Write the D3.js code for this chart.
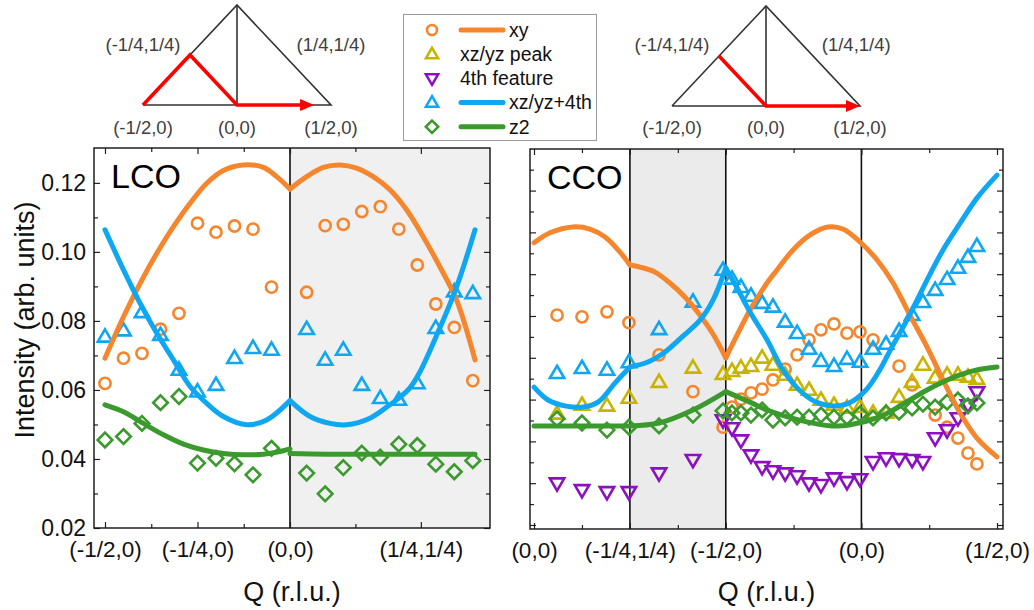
<!DOCTYPE html>
<html>
<head>
<meta charset="utf-8">
<script src="https://cdn.jsdelivr.net/npm/d3@7/dist/d3.min.js"></script>
<style>
html,body{margin:0;padding:0;background:#fff;}
svg{display:block;}
</style>
</head>
<body>
<svg id="chart" width="1034" height="610"></svg>
<script>
// ================= DATA =================
// Q positions are path lengths along the BZ cut (r.l.u.)
// ---- LCO (left panel) ----
const lcoQ = [-0.5,-0.45,-0.4,-0.35,-0.3,-0.25,-0.2,-0.15,-0.1,-0.05,0.045,0.095,0.144,0.194,0.244,0.294,0.344,0.394,0.444,0.494];
const lcoXy    = [0.0619,0.0692,0.0706,0.0776,0.0822,0.1083,0.1057,0.1075,0.1066,0.0898,0.0883,0.1076,0.1080,0.1117,0.1131,0.1066,0.0962,0.0849,0.0781,0.0627];
const lcoXz4th = [0.0754,0.0772,0.0825,0.0759,0.0658,0.0595,0.0614,0.0692,0.0721,0.0716,0.0776,0.0687,0.0716,0.0614,0.0576,0.0571,0.0619,0.0779,0.0885,0.0880];
const lcoZ2    = [0.0455,0.0465,0.0503,0.0563,0.0581,0.0388,0.0402,0.0386,0.0354,0.0431,0.0359,0.0299,0.0375,0.0417,0.0405,0.0443,0.0439,0.0385,0.0363,0.0395];

const lcoXyFitQ = [-0.5,-0.45,-0.405,-0.36,-0.315,-0.27,-0.225,-0.18,-0.126,-0.072,-0.036,0,0.045,0.09,0.135,0.18,0.225,0.27,0.315,0.36,0.405,0.45,0.5];
const lcoXyFit  = [0.0692,0.0812,0.0909,0.0996,0.1073,0.1141,0.1199,0.1236,0.1252,0.1245,0.1218,0.1182,0.1218,0.1245,0.1252,0.1243,0.1218,0.1180,0.1122,0.1044,0.0957,0.0861,0.0687];
const lcoXz4FitQ = [-0.5,-0.45,-0.405,-0.36,-0.315,-0.27,-0.225,-0.18,-0.117,-0.063,0,0.054,0.108,0.153,0.216,0.27,0.295,0.324,0.351,0.395,0.449,0.5];
const lcoXz4Fit  = [0.1064,0.0948,0.0851,0.0764,0.0687,0.0610,0.0561,0.0523,0.0499,0.0513,0.0569,0.0523,0.0503,0.0499,0.0518,0.0557,0.0577,0.0606,0.0652,0.0755,0.0895,0.1064];
const lcoZ2FitQ = [-0.5,-0.45,-0.396,-0.342,-0.288,-0.234,-0.18,-0.126,-0.072,-0.018,0,0,0.1,0.2,0.3,0.4,0.5];
const lcoZ2Fit  = [0.0557,0.0537,0.0503,0.0470,0.0443,0.0426,0.0416,0.0412,0.0414,0.0424,0.0429,0.0416,0.0414,0.0414,0.0414,0.0414,0.0414];

const lcoTickQ = [-0.5,-0.25,0,0.3536];
const lcoTickLabels = ["(-1/2,0)","(-1/4,0)","(0,0)","(1/4,1/4)"];
const lcoMinorQ = [-0.375,-0.125,0.1768];
const lcoBreaks = [0];

// ---- CCO (right panel) ----
const ccoQ = [0.085,0.177,0.269,0.350,0.461,0.586,
  0.697,0.730,0.763,0.800,0.841,0.881,0.926,0.970,1.014,1.058,1.106,1.154,1.202,1.250,1.298,1.346,1.394,1.434,1.479,1.523,1.563,1.600,1.633];
const ccoXy    = [0.0802,0.0798,0.0810,0.0784,0.0707,0.0619,
  0.0534,0.0582,0.0601,0.0616,0.0625,0.0647,0.0673,0.0707,0.0743,0.0767,0.0781,0.0759,0.0762,0.0743,null,0.0680,0.0635,null,0.0563,0.0534,0.0508,0.0472,0.0446];
const ccoPeak  = [0.0566,0.0587,0.0585,0.0604,0.0642,0.0676,
  0.0661,0.0668,0.0676,0.0680,0.0700,0.0683,0.0659,0.0635,0.0623,0.0599,0.0587,0.0580,0.0582,0.0568,0.0568,0.0606,0.0642,0.0683,0.0652,0.0659,0.0659,0.0654,0.0649];
const cco4th   = [0.0400,0.0384,0.0379,0.0379,0.0424,0.0456,
  0.0551,0.0532,0.0503,0.0467,0.0439,0.0429,0.0424,0.0417,0.0400,0.0396,0.0412,0.0403,0.0410,0.0451,0.0460,0.0458,0.0456,0.0451,0.0508,0.0527,0.0556,0.0587,0.0618];
const ccoXz4th = [0.0663,0.0675,0.0671,0.0689,0.0768,0.0834,
  0.0910,0.0889,0.0869,0.0848,0.0831,0.0822,0.0786,0.0759,0.0721,0.0692,0.0680,0.0697,0.0690,0.0721,0.0733,0.0764,0.0802,0.0833,0.0862,0.0888,0.0915,0.0941,0.0967];
const ccoZ2    = [0.0554,0.0544,0.0527,0.0534,0.0537,0.0563,
  0.0573,0.0568,0.0568,0.0563,0.0575,0.0551,0.0556,0.0558,0.0558,0.0563,0.0558,0.0558,0.0566,0.0556,0.0568,0.0570,0.0580,0.0589,0.0582,0.0594,0.0599,0.0585,0.0592];

const ccoXyFitQ = [0,0.059,0.144,0.206,0.262,0.317,0.3536,0.391,0.446,0.501,0.557,0.612,0.660,0.7071,0.749,0.796,0.859,0.896,0.955,1.018,1.084,1.139,1.202,1.265,1.324,1.386,1.449,1.508,1.571,1.633,1.7071];
const ccoXyFit  = [0.0975,0.0999,0.1013,0.1008,0.0989,0.0953,0.0922,0.0917,0.0905,0.0879,0.0845,0.0802,0.0757,0.0700,0.0755,0.0814,0.0879,0.0910,0.0958,0.0994,0.1013,0.1008,0.0977,0.0934,0.0879,0.0802,0.0726,0.0647,0.0568,0.0508,0.0463];
const ccoXz4FitQ = [0,0.052,0.114,0.177,0.236,0.299,0.3536,0.420,0.483,0.546,0.612,0.660,0.7071,0.749,0.796,0.859,0.918,0.978,1.040,1.099,1.162,1.224,1.272,1.324,1.375,1.449,1.508,1.571,1.633,1.7071];
const ccoXz4Fit  = [0.0630,0.0599,0.0585,0.0582,0.0594,0.0640,0.0678,0.0690,0.0714,0.0750,0.0790,0.0838,0.0915,0.0867,0.0810,0.0743,0.0671,0.0623,0.0594,0.0585,0.0592,0.0623,0.0668,0.0731,0.0790,0.0886,0.0958,0.1022,0.1082,0.1137];
const ccoZ2FitQ = [0,0.177,0.3536,0.461,0.586,0.7071,0.796,0.859,0.978,1.099,1.162,1.272,1.324,1.386,1.449,1.508,1.571,1.633,1.7071];
const ccoZ2Fit  = [0.0537,0.0537,0.0537,0.0544,0.0575,0.0619,0.0594,0.0575,0.0551,0.0537,0.0539,0.0558,0.0575,0.0599,0.0623,0.0642,0.0659,0.0671,0.0678];

const ccoTickQ = [0,0.3536,0.7071,1.2071,1.7071];
const ccoTickLabels = ["(0,0)","(-1/4,1/4)","(-1/2,0)","(0,0)","(1/2,0)"];
const ccoMinorQ = [0.1768,0.5303,0.9571,1.4571];
const ccoBreaks = [0.3536,0.7071];

// y ticks
const lcoYTicks = [0.02,0.04,0.06,0.08,0.10,0.12];
const lcoYMinor = [0.03,0.05,0.07,0.09,0.11];
const ccoYTicks = [0.03,0.04,0.05,0.06,0.07,0.08,0.09,0.10,0.11];
const ccoYMinor = [0.035,0.045,0.055,0.065,0.075,0.085,0.095,0.105,0.115];

// legend
const legendNames = ["xy","xz/yz peak","4th feature","xz/yz+4th","z2"];

// ================= STYLE =================
const FONT = '"Liberation Sans", Arial, Helvetica, sans-serif';
const C = {xy:"#f5862d", peak:"#c8b400", f4:"#8c10c0", xz4:"#0fa6f2", z2:"#3b9a2e"};
const SHAPES = {
  up:   "M0,-7.5L7.2,4.8L-7.2,4.8Z",
  down: "M0,7.5L7.2,-4.8L-7.2,-4.8Z",
  diamond: "M0,-7.3L7.3,0L0,7.3L-7.3,0Z"
};

const svg = d3.select("#chart");

function segments(qs, vs, breaks){
  const eq=(a,b)=>Math.abs(a-b)<1e-9;
  const isB = q => breaks.some(b=>eq(b,q));
  const out=[]; let cur=[];
  for(let i=0;i<qs.length;i++){
    const p=[qs[i],vs[i]];
    if(cur.length && eq(cur[cur.length-1][0],qs[i])){ out.push(cur); cur=[p]; continue; }
    cur.push(p);
    if(isB(qs[i]) && cur.length>1 && i<qs.length-1 && !eq(qs[i+1],qs[i])){ out.push(cur); cur=[p]; }
  }
  if(cur.length>1) out.push(cur);
  return out;
}

function drawMarkers(g, x, y, q, vals, color, shape){
  const pts = q.map((d,i)=>[d,vals[i]]).filter(d=>d[1]!==null);
  if(shape==="circle"){
    g.selectAll(null).data(pts).enter().append("circle")
      .attr("cx",d=>x(d[0])).attr("cy",d=>y(d[1])).attr("r",5.6)
      .attr("fill","none").attr("stroke",color).attr("stroke-width",2.6);
  } else {
    g.selectAll(null).data(pts).enter().append("path")
      .attr("transform",d=>`translate(${x(d[0])},${y(d[1])})`)
      .attr("d",SHAPES[shape]).attr("fill","none").attr("stroke",color)
      .attr("stroke-width",2.6).attr("stroke-linejoin","miter");
  }
}

function drawPanel(p){
  const g = svg.append("g");
  const x=p.x, y=p.y;
  const [X0,X1]=x.range(), [Y0,Y1]=y.range();
  p.shade.forEach(([a,b])=>{
    g.append("rect").attr("x",x(a)).attr("y",Y1).attr("width",x(b)-x(a)).attr("height",Y0-Y1).attr("fill",p.shadeColor);
  });
  p.vlines.forEach(v=>{
    g.append("line").attr("x1",x(v)).attr("x2",x(v)).attr("y1",Y1).attr("y2",Y0)
      .attr("stroke","#111").attr("stroke-width",1.6);
  });
  const axes = [
    [d3.axisBottom(x).tickValues(p.xTicks).tickSize(-6).tickPadding(13).tickFormat((d,i)=>p.xLabels[i]), `translate(0,${Y0})`, true, 22.5],
    [d3.axisBottom(x).tickValues(p.xMinor).tickSize(-4).tickFormat(""), `translate(0,${Y0})`],
    [d3.axisTop(x).tickValues(p.xTicks).tickSize(-6).tickFormat(""), `translate(0,${Y1})`],
    [d3.axisTop(x).tickValues(p.xMinor).tickSize(-4).tickFormat(""), `translate(0,${Y1})`],
    [d3.axisLeft(y).tickValues(p.yTicks).tickSize(-6).tickPadding(8).tickFormat(p.yLabels? d3.format(".2f") : ""), `translate(${X0},0)`, true, 23],
    [d3.axisLeft(y).tickValues(p.yMinor).tickSize(-4).tickFormat(""), `translate(${X0},0)`],
    [d3.axisRight(y).tickValues(p.yTicks).tickSize(-6).tickFormat(""), `translate(${X1},0)`],
    [d3.axisRight(y).tickValues(p.yMinor).tickSize(-4).tickFormat(""), `translate(${X1},0)`]
  ];
  axes.forEach(([ax,tr,lab,fs])=>{
    const a = g.append("g").attr("transform",tr).call(ax);
    a.select(".domain").remove();
    a.selectAll("line").attr("stroke","#222").attr("stroke-width",1.2);
    a.selectAll("text").attr("font-family",FONT).attr("font-size",fs||12).attr("fill","#111");
  });
  // markers
  p.series.forEach(s=>drawMarkers(g,x,y,p.q,s.vals,s.color,s.shape));
  // fit lines
  const line = d3.line().x(d=>x(d[0])).y(d=>y(d[1])).curve(d3.curveCatmullRom.alpha(0.5));
  p.fits.forEach(f=>{
    segments(f.q,f.vals,p.breaks).forEach(seg=>{
      g.append("path").attr("d",line(seg)).attr("fill","none").attr("stroke",f.color)
        .attr("stroke-width",5).attr("stroke-linecap","round").attr("stroke-linejoin","round");
    });
  });
  // frame
  g.append("rect").attr("x",X0).attr("y",Y1).attr("width",X1-X0).attr("height",Y0-Y1)
    .attr("fill","none").attr("stroke","#111").attr("stroke-width",1.4);
  // panel label
  g.append("text").attr("x",X0+17).attr("y",Y1+40).text(p.name)
    .attr("font-family",FONT).attr("font-size",34).attr("fill","#000");
  // x title
  g.append("text").attr("x",(X0+X1)/2).attr("y",601).attr("text-anchor","middle").text("Q (r.l.u.)")
    .attr("font-family",FONT).attr("font-size",27).attr("fill","#111");
}

const xL = d3.scaleLinear().domain([-0.5297,0.5405]).range([94,490]);
const yL = d3.scaleLinear().domain([0.02,0.1301]).range([528,148]);
const xR = d3.scaleLinear().domain([-0.01475,1.7292]).range([530,1003]);
const yR = d3.scaleLinear().domain([0.02904,0.11995]).range([529,149]);

drawPanel({
  name:"LCO", x:xL, y:yL, q:lcoQ,
  shade:[[0,xL.domain()[1]]], shadeColor:"#f0f0f0", vlines:[0], breaks:lcoBreaks,
  xTicks:lcoTickQ, xLabels:lcoTickLabels, xMinor:lcoMinorQ,
  yTicks:lcoYTicks, yMinor:lcoYMinor, yLabels:true,
  series:[
    {vals:lcoXy,color:C.xy,shape:"circle"},
    {vals:lcoXz4th,color:C.xz4,shape:"up"},
    {vals:lcoZ2,color:C.z2,shape:"diamond"}
  ],
  fits:[
    {q:lcoXyFitQ,vals:lcoXyFit,color:C.xy},
    {q:lcoXz4FitQ,vals:lcoXz4Fit,color:C.xz4},
    {q:lcoZ2FitQ,vals:lcoZ2Fit,color:C.z2}
  ]
});

drawPanel({
  name:"CCO", x:xR, y:yR, q:ccoQ,
  shade:[[0.3536,0.7071]], shadeColor:"#ebebeb", vlines:[0.3536,0.7071,1.2071], breaks:ccoBreaks,
  xTicks:ccoTickQ, xLabels:ccoTickLabels, xMinor:ccoMinorQ,
  yTicks:ccoYTicks, yMinor:ccoYMinor, yLabels:false,
  series:[
    {vals:ccoXy,color:C.xy,shape:"circle"},
    {vals:ccoPeak,color:C.peak,shape:"up"},
    {vals:cco4th,color:C.f4,shape:"down"},
    {vals:ccoXz4th,color:C.xz4,shape:"up"},
    {vals:ccoZ2,color:C.z2,shape:"diamond"}
  ],
  fits:[
    {q:ccoXyFitQ,vals:ccoXyFit,color:C.xy},
    {q:ccoXz4FitQ,vals:ccoXz4Fit,color:C.xz4},
    {q:ccoZ2FitQ,vals:ccoZ2Fit,color:C.z2}
  ]
});

// y axis title
svg.append("text").attr("transform","translate(34,320) rotate(-90)").attr("text-anchor","middle")
  .text("Intensity (arb. units)").attr("font-family",FONT).attr("font-size",27).attr("fill","#111");

// ================= BZ diagrams =================
function bz(x0,x1,yb,path,arrowEnd,labelPos){
  const qx = d3.scaleLinear().domain([-0.5,0.5]).range([x0,x1]);
  const qy = d3.scaleLinear().domain([0,0.5]).range([yb,yb-100]);
  const g = svg.append("g");
  const P = (a,b)=>[qx(a),qy(b)];
  const blk = [[P(-0.5,0),P(0,0.5),P(0.5,0),P(-0.5,0)],[P(0,0.5),P(0,0)]];
  blk.forEach(pts=>g.append("path").attr("d",d3.line()(pts)).attr("fill","none").attr("stroke","#333").attr("stroke-width",1.6));
  const red = path.map(d=>P(d[0],d[1]));
  const tip = P(arrowEnd,0);
  red.push([tip[0]-11,tip[1]]);
  g.append("path").attr("d",d3.line()(red)).attr("fill","none").attr("stroke","#ff0000").attr("stroke-width",3.6).attr("stroke-linejoin","miter");
  g.append("path").attr("d",`M${tip[0]},${tip[1]}L${tip[0]-14},${tip[1]-6}L${tip[0]-14},${tip[1]+6}Z`).attr("fill","#ff0000");
  const labs = [["(-1/4,1/4)",-0.5,45],["(1/4,1/4)",labelPos,45],["(-1/2,0)",-0.5,128],["(0,0)",0,128],["(1/2,0)",0.5,128]];
  labs.forEach(([t,a,yy])=>g.append("text").attr("x",qx(a)).attr("y",yy).attr("dy","0.35em").attr("text-anchor","middle")
    .text(t).attr("font-family",FONT).attr("font-size",18.5).attr("fill","#404040"));
}
bz(143,331,105,[[-0.5,0],[-0.25,0.25],[0,0]],0.41,0.5);
bz(672,860,106,[[-0.25,0.25],[0,0]],0.5,0.48);

// ================= Legend =================
const lg = svg.append("g");
lg.append("rect").attr("x",403.5).attr("y",14.5).attr("width",193).attr("height",126)
  .attr("fill","#fff").attr("stroke","#9a9a9a").attr("stroke-width",1);
const legStyle = [
  {color:C.xy,shape:"circle",line:true},
  {color:C.peak,shape:"up",line:false},
  {color:C.f4,shape:"down",line:false},
  {color:C.xz4,shape:"up",line:true},
  {color:C.z2,shape:"diamond",line:true}
];
legendNames.forEach((n,i)=>{
  const yy = 30 + i*24.2, st = legStyle[i];
  if(st.shape==="circle"){
    lg.append("circle").attr("cx",432).attr("cy",yy).attr("r",5).attr("fill","none").attr("stroke",st.color).attr("stroke-width",2.6);
  } else {
    lg.append("path").attr("transform",`translate(432,${yy}) scale(0.85)`).attr("d",SHAPES[st.shape]).attr("fill","none").attr("stroke",st.color).attr("stroke-width",3);
  }
  if(st.line){
    lg.append("line").attr("x1",461).attr("x2",503).attr("y1",yy).attr("y2",yy).attr("stroke",st.color).attr("stroke-width",5).attr("stroke-linecap","round");
  }
  lg.append("text").attr("x",st.line?509:460).attr("y",yy).attr("dy","0.35em").text(n)
    .attr("font-family",FONT).attr("font-size",19.5).attr("fill","#111");
});
</script>
</body>
</html>
